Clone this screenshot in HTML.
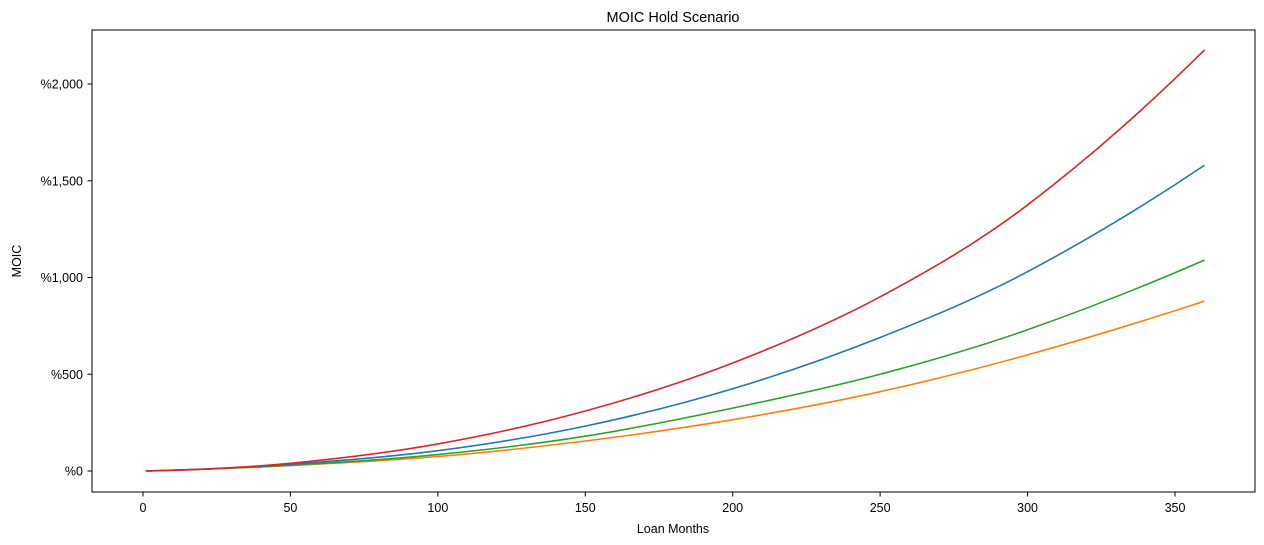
<!DOCTYPE html>
<html><head><meta charset="utf-8">
<style>
html,body{margin:0;padding:0;background:#fff;}
svg{display:block;font-family:"Liberation Sans","DejaVu Sans",sans-serif;}
</style></head>
<body>
<svg id="chart" width="1264" height="545">
<text x="673" y="22" text-anchor="middle" font-size="14.5" fill="#000">MOIC Hold Scenario</text>
<rect x="92" y="30" width="1163" height="462" fill="none" stroke="#000" stroke-width="1"/>
<g id="xticks"></g>
<g id="yticks"></g>
<g id="lines"></g>
<text x="673" y="533" text-anchor="middle" font-size="12.5">Loan Months</text>
<text x="21" y="261" text-anchor="middle" font-size="12.5" transform="rotate(-90 21 261)">MOIC</text>
</svg>
<script>
const months = [1, 50, 100, 150, 200, 250, 300, 360];
const seriesBlue = [0, 35, 105, 232, 425, 690, 1030, 1580];
const seriesOrange = [0, 28, 75, 155, 265, 410, 600, 878];
const seriesGreen = [0, 30, 85, 180, 325, 500, 730, 1090];
const seriesRed = [0, 40, 140, 310, 558, 900, 1375, 2176];
const xTicks = [0, 50, 100, 150, 200, 250, 300, 350];
const yTicks = [0, 500, 1000, 1500, 2000];
const yTickLabels = ["%0", "%500", "%1,000", "%1,500", "%2,000"];

const NS = "http://www.w3.org/2000/svg";
function xs(v){ return 143 + (v - 0) * (1175 - 143) / 350; }
function ys(v){ return 471 - v * (471 - 84) / 2000; }

const xg = document.getElementById("xticks");
xTicks.forEach(t => {
  const l = document.createElementNS(NS, "line");
  l.setAttribute("x1", xs(t)); l.setAttribute("x2", xs(t));
  l.setAttribute("y1", 492); l.setAttribute("y2", 496.5);
  l.setAttribute("stroke", "#000");
  
  
  xg.appendChild(l);
  const tx = document.createElementNS(NS, "text");
  tx.setAttribute("x", xs(t)); tx.setAttribute("y", 512);
  tx.setAttribute("text-anchor", "middle"); tx.setAttribute("font-size", "12.5");
  tx.textContent = t;
  
  
  xg.appendChild(tx);
});
const yg = document.getElementById("yticks");
yTicks.forEach((t, i) => {
  const l = document.createElementNS(NS, "line");
  l.setAttribute("x1", 87.5); l.setAttribute("x2", 92);
  l.setAttribute("y1", ys(t)); l.setAttribute("y2", ys(t));
  l.setAttribute("stroke", "#000");
  
  
  yg.appendChild(l);
  const tx = document.createElementNS(NS, "text");
  tx.setAttribute("x", 83); tx.setAttribute("y", ys(t) + 4.5);
  tx.setAttribute("text-anchor", "end"); tx.setAttribute("font-size", "12.5");
  tx.textContent = yTickLabels[i];
  
  
  yg.appendChild(tx);
});

function smoothPath(xv, yv){
  const n = xv.length;
  const s = [];
  for (let i = 0; i < n - 1; i++) s.push((yv[i+1] - yv[i]) / (xv[i+1] - xv[i]));
  const m = [];
  for (let i = 0; i < n; i++){
    if (i === 0) m.push(Math.max(0, 2 * s[0] - (yv[2] - yv[0]) / (xv[2] - xv[0])));
    else if (i === n - 1) m.push(2 * s[n-2] - (yv[n-1] - yv[n-3]) / (xv[n-1] - xv[n-3]));
    else m.push((yv[i+1] - yv[i-1]) / (xv[i+1] - xv[i-1]));
  }
  let d = "M" + xs(xv[0]) + "," + ys(yv[0]);
  for (let i = 0; i < n - 1; i++){
    const h = xv[i+1] - xv[i];
    const c1x = xv[i] + h / 3, c1y = yv[i] + m[i] * h / 3;
    const c2x = xv[i+1] - h / 3, c2y = yv[i+1] - m[i+1] * h / 3;
    d += " C" + xs(c1x) + "," + ys(c1y) + " " + xs(c2x) + "," + ys(c2y) + " " + xs(xv[i+1]) + "," + ys(yv[i+1]);
  }
  return d;
}
const lg = document.getElementById("lines");
const series = [
  [seriesOrange, "#ff7f0e", "series-orange"],
  [seriesGreen, "#2ca02c", "series-green"],
  [seriesBlue, "#1f77b4", "series-blue"],
  [seriesRed, "#d62728", "series-red"]
];
series.forEach(sr => {
  const path = document.createElementNS(NS, "path");
  path.setAttribute("d", smoothPath(months, sr[0]));
  path.setAttribute("fill", "none");
  path.setAttribute("stroke", sr[1]);
  path.setAttribute("stroke-width", "1.6");
  
  
  lg.appendChild(path);
});
</script>
</body></html>
